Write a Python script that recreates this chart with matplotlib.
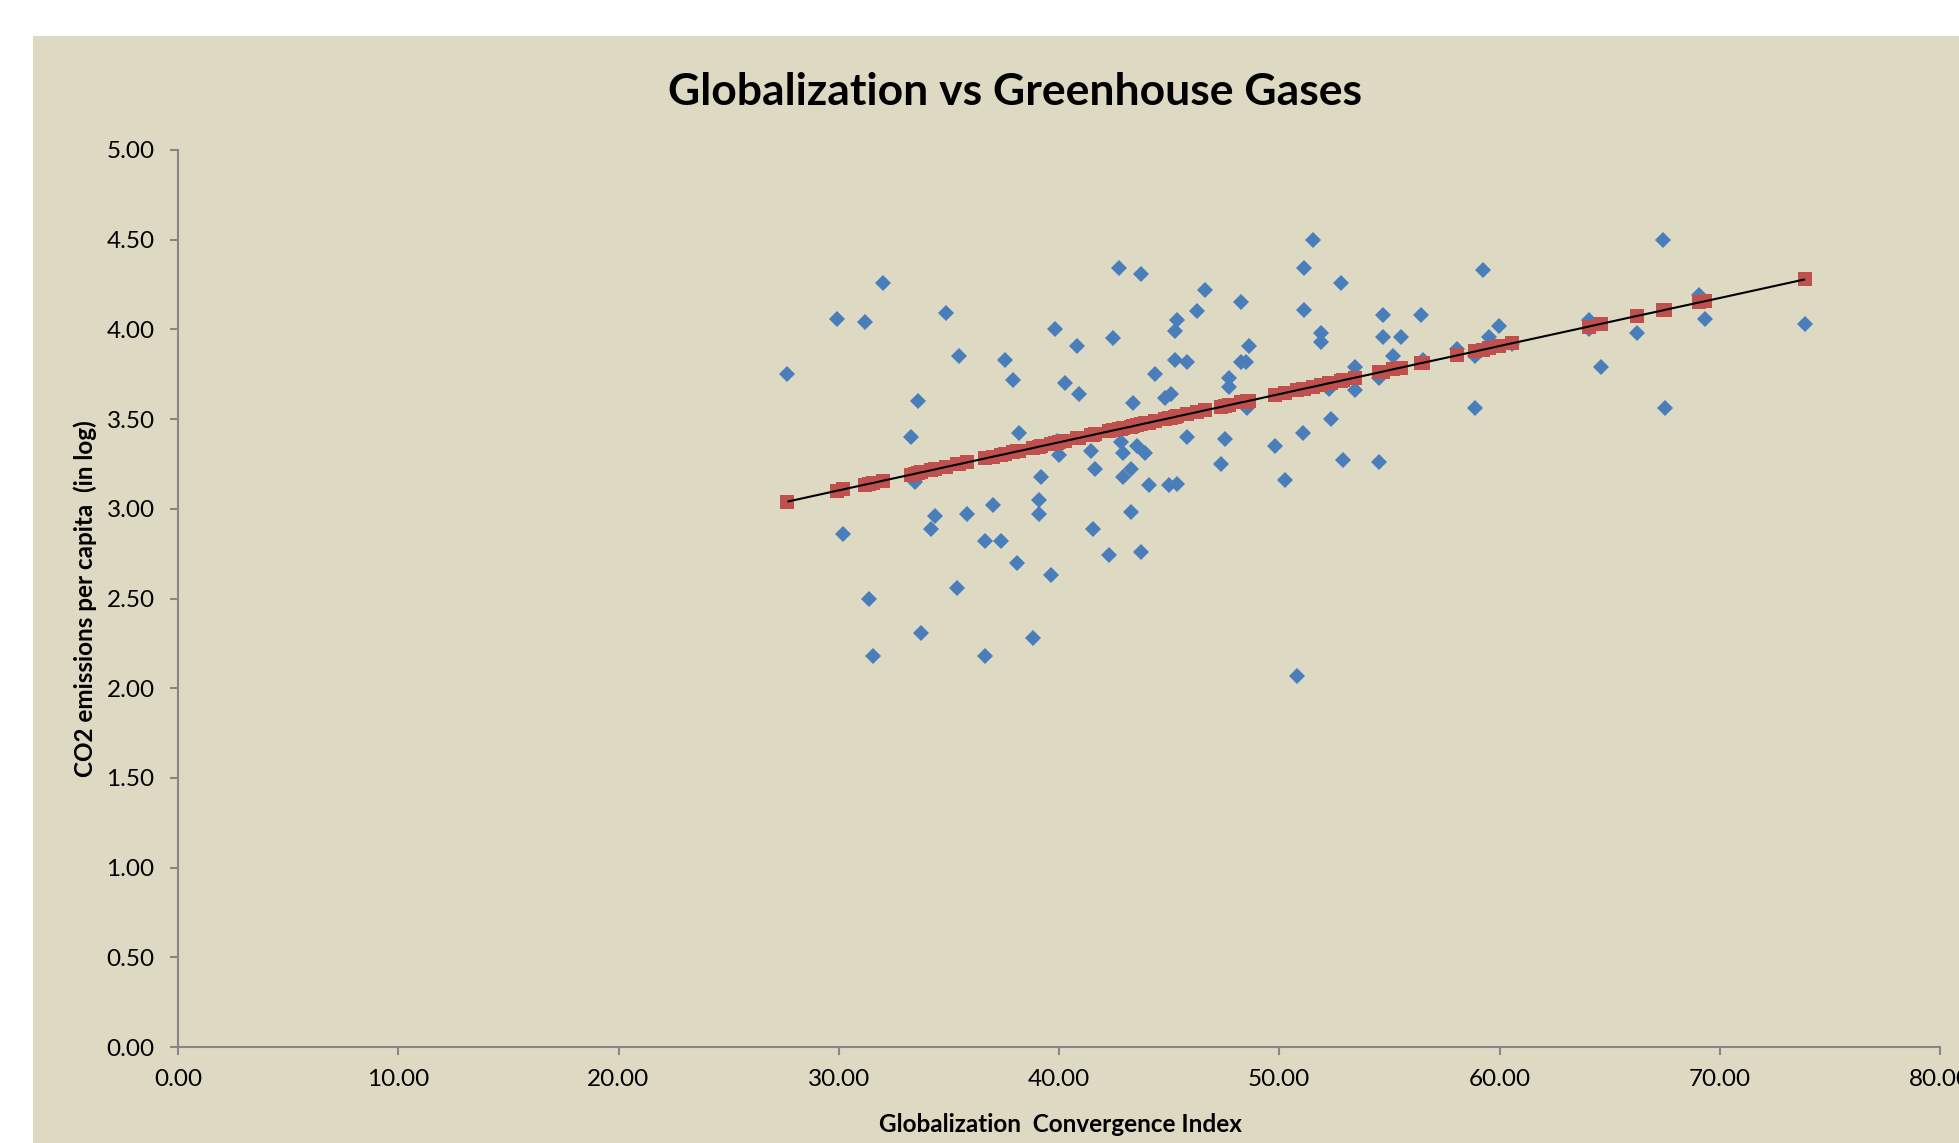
import matplotlib
matplotlib.use("Agg")
import matplotlib.pyplot as plt
from matplotlib.patches import Rectangle

# ---- data ----
glob_index = [
    32.02, 29.93, 31.20, 34.85, 27.67, 35.47, 37.56, 37.92, 33.58, 33.30,
    38.19, 33.45, 30.20, 34.39, 34.20, 35.83, 37.01, 36.65, 37.37, 38.10,
    35.39, 31.38, 33.74, 31.56, 36.65, 38.83,
    42.73, 43.73, 46.63, 48.27, 46.27, 45.36, 45.27, 39.82, 42.46, 40.82,
    48.63, 45.27, 45.82, 48.27, 48.48, 44.36, 40.28, 40.91, 47.72, 47.72,
    45.09, 44.82, 43.36, 48.54, 39.91, 40.01, 41.46, 42.82, 42.91, 43.55,
    43.91, 45.82, 47.54, 47.36, 49.81, 51.08, 39.19, 39.10, 39.10, 41.64,
    42.91, 43.27, 44.09, 45.00, 45.36, 43.27, 41.55, 42.28, 43.73, 39.64,
    50.26, 50.81, 51.14, 51.14, 51.53,
    52.81, 59.25, 54.71, 56.44, 51.90, 51.90, 54.71, 55.53, 59.98, 59.52,
    58.07, 55.17, 56.53, 58.89, 53.44, 54.53, 52.26, 53.44, 52.35, 52.90,
    54.53, 58.89, 60.55,
    67.42, 64.06, 64.06, 64.61, 66.24, 67.51, 69.06, 69.33, 73.87,
]
co2_log = [
    4.26, 4.06, 4.04, 4.09, 3.75, 3.85, 3.83, 3.72, 3.60, 3.40,
    3.42, 3.15, 2.86, 2.96, 2.89, 2.97, 3.02, 2.82, 2.82, 2.70,
    2.56, 2.50, 2.31, 2.18, 2.18, 2.28,
    4.34, 4.31, 4.22, 4.15, 4.10, 4.05, 3.99, 4.00, 3.95, 3.91,
    3.91, 3.83, 3.82, 3.82, 3.82, 3.75, 3.70, 3.64, 3.73, 3.68,
    3.64, 3.62, 3.59, 3.56, 3.38, 3.30, 3.32, 3.37, 3.31, 3.35,
    3.31, 3.40, 3.39, 3.25, 3.35, 3.42, 3.18, 3.05, 2.97, 3.22,
    3.18, 3.22, 3.13, 3.13, 3.14, 2.98, 2.89, 2.74, 2.76, 2.63,
    3.16, 2.07, 4.34, 4.11, 4.50,
    4.26, 4.33, 4.08, 4.08, 3.98, 3.93, 3.96, 3.96, 4.02, 3.96,
    3.89, 3.85, 3.83, 3.85, 3.79, 3.73, 3.67, 3.66, 3.50, 3.27,
    3.26, 3.56, 3.92,
    4.50, 4.05, 4.00, 3.79, 3.98, 3.56, 4.19, 4.06, 4.03,
]
# predicted (fitted) CO2 values, red squares
fitted_co2 = [
    3.157, 3.101, 3.135, 3.233, 3.040, 3.249, 3.305, 3.315, 3.199, 3.191,
    3.322, 3.195, 3.108, 3.220, 3.215, 3.259, 3.291, 3.281, 3.300, 3.320,
    3.247, 3.140, 3.203, 3.144, 3.281, 3.339,
    3.444, 3.471, 3.549, 3.593, 3.539, 3.515, 3.512, 3.366, 3.437, 3.393,
    3.602, 3.512, 3.527, 3.593, 3.598, 3.488, 3.378, 3.395, 3.578, 3.578,
    3.507, 3.500, 3.461, 3.600, 3.368, 3.371, 3.410, 3.446, 3.449, 3.466,
    3.476, 3.527, 3.573, 3.568, 3.634, 3.668, 3.349, 3.347, 3.347, 3.415,
    3.449, 3.458, 3.480, 3.505, 3.515, 3.458, 3.412, 3.432, 3.471, 3.361,
    3.646, 3.661, 3.670, 3.670, 3.680,
    3.714, 3.887, 3.765, 3.812, 3.690, 3.690, 3.765, 3.787, 3.907, 3.894,
    3.855, 3.778, 3.814, 3.877, 3.731, 3.760, 3.700, 3.731, 3.702, 3.717,
    3.760, 3.877, 3.922,
    4.106, 4.016, 4.016, 4.031, 4.075, 4.109, 4.150, 4.157, 4.279,
]
x_ticks = [0, 10, 20, 30, 40, 50, 60, 70, 80]
y_ticks = [0.0, 0.5, 1.0, 1.5, 2.0, 2.5, 3.0, 3.5, 4.0, 4.5, 5.0]
title = "Globalization vs Greenhouse Gases"
x_label = "Globalization  Convergence Index"
y_label = "CO2 emissions per capita  (in log)"

# ---- styling ----
plt.rcParams["font.family"] = ["Lato", "DejaVu Sans"]
BG = "#DDD9C3"
AXIS_GRAY = "#868686"
BLUE = "#4A7EBB"
RED = "#C0504D"

W, H = 1959, 1143
fig = plt.figure(figsize=(W / 100, H / 100), dpi=100, facecolor="white")
fig.patches.append(Rectangle((33 / W, 0), 1 - 33 / W, (H - 36) / H,
                             transform=fig.transFigure, facecolor=BG,
                             edgecolor="none", zorder=-10))

ax = fig.add_axes([178 / W, (H - 1047) / H, (1940 - 178) / W, (1047 - 150) / H])
ax.set_zorder(1)
ax.set_facecolor("none")
ax.set_xlim(0, 80)
ax.set_ylim(0, 5)

ax.plot(glob_index, co2_log, linestyle="none", marker="D", markersize=8.4,
        color=BLUE, markeredgewidth=0, zorder=3, clip_on=False)
ax.plot(glob_index, fitted_co2, linestyle="none", marker="s", markersize=10,
        color=RED, markeredgewidth=0, zorder=4, clip_on=False)
pairs = sorted(zip(glob_index, fitted_co2))
ax.plot([p[0] for p in pairs], [p[1] for p in pairs], color="black",
        linewidth=1.5, zorder=5, solid_capstyle="butt")

for s in ("top", "right"):
    ax.spines[s].set_visible(False)
for s in ("left", "bottom"):
    ax.spines[s].set_color(AXIS_GRAY)
    ax.spines[s].set_linewidth(1.5)

ax.set_xticks(x_ticks)
ax.set_xticklabels([f"{v:.2f}" for v in x_ticks])
ax.set_yticks(y_ticks)
ax.set_yticklabels([f"{v:.2f}" for v in y_ticks])
ax.tick_params(axis="both", direction="out", length=5.8, width=1.5,
               color=AXIS_GRAY, labelsize=17.5, labelcolor="black")
ax.tick_params(axis="y", pad=11)
ax.tick_params(axis="x", pad=10)

fig.text(1015 / W, 1 - 92 / H, title, ha="center", va="center",
         fontsize=32, fontweight="bold", color="black")
fig.text(1060 / W, 1 - 1125 / H, x_label, ha="center", va="center",
         fontsize=17.5, fontweight="bold", color="black")
fig.text(85 / W, 1 - 599 / H, y_label, ha="center", va="center",
         rotation=90, fontsize=17.5, fontweight="bold", color="black")

fig.savefig("out.png", dpi=100, facecolor="white")
